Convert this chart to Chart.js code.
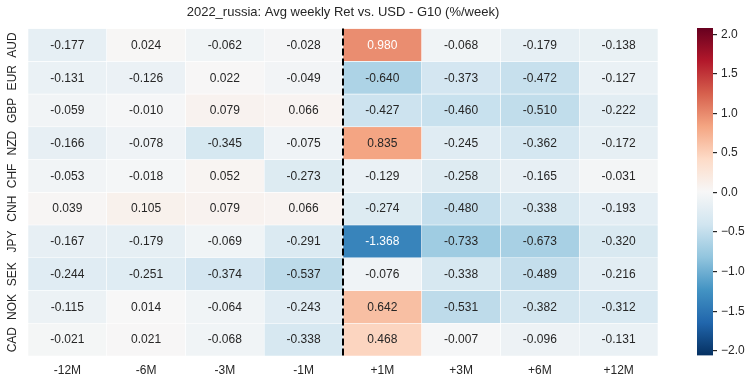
<!DOCTYPE html>
<html>
<head>
<meta charset="utf-8">
<script src="https://cdn.jsdelivr.net/npm/chart.js@4/dist/chart.umd.min.js"></script>
<style>
  html, body { margin: 0; padding: 0; background: #ffffff; }
  #wrap { position: relative; width: 752px; height: 383px; background: #ffffff; }
  #main { position: absolute; left: 0; top: 0; }
  #cbar { position: absolute; left: 686px; top: 0; }
</style>
</head>
<body>
<div id="wrap">
  <canvas id="main" width="686" height="383"></canvas>
  <canvas id="cbar" width="66" height="383"></canvas>
</div>
<script>
// ---------------- data ----------------
const titleText = '2022_russia: Avg weekly Ret vs. USD - G10 (%/week)';
const columns = ['-12M', '-6M', '-3M', '-1M', '+1M', '+3M', '+6M', '+12M'];
const rows = ['AUD', 'EUR', 'GBP', 'NZD', 'CHF', 'CNH', 'JPY', 'SEK', 'NOK', 'CAD'];
const AUD = [-0.177, 0.024, -0.062, -0.028, 0.980, -0.068, -0.179, -0.138];
const EUR = [-0.131, -0.126, 0.022, -0.049, -0.640, -0.373, -0.472, -0.127];
const GBP = [-0.059, -0.010, 0.079, 0.066, -0.427, -0.460, -0.510, -0.222];
const NZD = [-0.166, -0.078, -0.345, -0.075, 0.835, -0.245, -0.362, -0.172];
const CHF = [-0.053, -0.018, 0.052, -0.273, -0.129, -0.258, -0.165, -0.031];
const CNH = [0.039, 0.105, 0.079, 0.066, -0.274, -0.480, -0.338, -0.193];
const JPY = [-0.167, -0.179, -0.069, -0.291, -1.368, -0.733, -0.673, -0.320];
const SEK = [-0.244, -0.251, -0.374, -0.537, -0.076, -0.338, -0.489, -0.216];
const NOK = [-0.115, 0.014, -0.064, -0.243, 0.642, -0.531, -0.382, -0.312];
const CAD = [-0.021, 0.021, -0.068, -0.338, 0.468, -0.007, -0.096, -0.131];
const rowValues = [AUD, EUR, GBP, NZD, CHF, CNH, JPY, SEK, NOK, CAD];
const colorbarTicks = [-2.0, -1.5, -1.0, -0.5, 0.0, 0.5, 1.0, 1.5, 2.0];
const vmin = -2.06, vmax = 2.08;
const splitAfterColumn = 3; // dashed line between -1M and +1M

// ---------------- colormap (RdBu_r) ----------------
const RdBu_r = ['#053061','#2166ac','#4393c3','#92c5de','#d1e5f0','#f7f7f7','#fddbc7','#f4a582','#d6604d','#b2182b','#67001f'];
function hexToRgb(h) { return [parseInt(h.slice(1,3),16), parseInt(h.slice(3,5),16), parseInt(h.slice(5,7),16)]; }
const stops = RdBu_r.map(hexToRgb);
function rgbFor(v) {
  let t = (v - vmin) / (vmax - vmin);
  t = Math.max(0, Math.min(1, t));
  const p = t * (stops.length - 1);
  const k = Math.min(stops.length - 2, Math.floor(p));
  const f = p - k;
  return stops[k].map((c, i) => c + (stops[k + 1][i] - c) * f);
}
function colorFor(v) { const c = rgbFor(v); return `rgb(${c.map(Math.round).join(',')})`; }
function textColorFor(v) {
  const c = rgbFor(v).map(x => { x /= 255; return x <= 0.03928 ? x / 12.92 : Math.pow((x + 0.055) / 1.055, 2.4); });
  const lum = 0.2126 * c[0] + 0.7152 * c[1] + 0.0722 * c[2];
  return lum > 0.408 ? '#262626' : '#ffffff';
}

const FONT = '"Liberation Sans", Arial, Helvetica, sans-serif';
const TXT = '#262626';

// ---------------- plugins ----------------
const annotatePlugin = {
  id: 'annotate',
  afterDatasetsDraw(chart) {
    const ctx = chart.ctx;
    ctx.save();
    ctx.font = '12px ' + FONT;
    ctx.textAlign = 'center';
    ctx.textBaseline = 'middle';
    rowValues.forEach((vals, i) => {
      const meta = chart.getDatasetMeta(i);
      meta.data.forEach((el, j) => {
        const v = vals[j];
        ctx.fillStyle = textColorFor(v);
        ctx.fillText(v.toFixed(3), el.x, (el.y + el.base) / 2 + 0.5);
      });
    });
    ctx.restore();
  },
  afterDraw(chart) {
    const ctx = chart.ctx;
    const xs = chart.scales.x;
    const x = Math.round((xs.getPixelForValue(splitAfterColumn) + xs.getPixelForValue(splitAfterColumn + 1)) / 2);
    const ca = chart.chartArea;
    ctx.save();
    ctx.strokeStyle = '#000000';
    ctx.lineWidth = 2;
    ctx.setLineDash([7, 3]);
    ctx.beginPath();
    ctx.moveTo(x, ca.top);
    ctx.lineTo(x, ca.bottom);
    ctx.stroke();
    ctx.restore();
  }
};

// ---------------- heatmap ----------------
new Chart(document.getElementById('main'), {
  type: 'bar',
  data: {
    labels: columns,
    datasets: rows.map((r, i) => ({
      label: r,
      data: columns.map(() => [i, i + 1]),
      grouped: false,
      barPercentage: 1,
      categoryPercentage: 1,
      backgroundColor: rowValues[i].map(colorFor),
      borderColor: '#ffffff',
      borderWidth: 0.6,
      borderSkipped: false
    }))
  },
  options: {
    responsive: false,
    animation: false,
    events: [],
    layout: { padding: 0 },
    plugins: {
      legend: { display: false },
      tooltip: { enabled: false },
      title: {
        display: true,
        text: titleText,
        color: TXT,
        font: { family: FONT, size: 13, weight: 'normal', lineHeight: 1.2 },
        padding: { top: 5, bottom: 8 }
      }
    },
    scales: {
      x: {
        type: 'category',
        offset: true,
        grid: { display: false, drawTicks: false },
        border: { display: false },
        ticks: { color: TXT, font: { family: FONT, size: 12 }, padding: 7, maxRotation: 0, minRotation: 0 },
        afterFit: s => { s.height = 27; }
      },
      y: {
        type: 'linear',
        position: 'left',
        min: 0,
        max: rows.length,
        reverse: true,
        grid: { display: false, drawTicks: false },
        border: { display: false },
        afterBuildTicks: s => { s.ticks = rows.map((_, i) => ({ value: i + 0.5 })); },
        ticks: {
          color: TXT,
          font: { family: FONT, size: 12 },
          callback: v => rows[Math.floor(v)],
          minRotation: 90,
          maxRotation: 90,
          crossAlign: 'center',
          padding: 2,
          autoSkip: false
        },
        afterFit: s => { s.width = 28; }
      },
      yR: {
        type: 'linear',
        position: 'right',
        display: true,
        grid: { display: false, drawTicks: false },
        border: { display: false },
        ticks: { display: false },
        afterFit: s => { s.width = 28; }
      }
    }
  },
  plugins: [annotatePlugin]
});

// ---------------- colorbar ----------------
new Chart(document.getElementById('cbar'), {
  type: 'bar',
  data: {
    labels: ['cbar'],
    datasets: [{
      data: [[vmin, vmax]],
      barPercentage: 1,
      categoryPercentage: 1,
      borderWidth: 0,
      backgroundColor: ctx => {
        const ca = ctx.chart.chartArea;
        if (!ca) return '#ffffff';
        const g = ctx.chart.ctx.createLinearGradient(0, ca.bottom, 0, ca.top);
        RdBu_r.forEach((c, k) => g.addColorStop(k / (RdBu_r.length - 1), c));
        return g;
      }
    }]
  },
  options: {
    responsive: false,
    animation: false,
    events: [],
    layout: { padding: { left: 11, top: 28, bottom: 27.5, right: 0 } },
    plugins: { legend: { display: false }, tooltip: { enabled: false }, title: { display: false } },
    scales: {
      x: { display: false },
      y: {
        position: 'right',
        min: vmin,
        max: vmax,
        grid: { display: true, drawOnChartArea: false, drawTicks: true, tickLength: 4, color: '#262626', lineWidth: 1.2 },
        border: { display: false },
        afterBuildTicks: s => { s.ticks = colorbarTicks.map(v => ({ value: v })); },
        ticks: {
          color: TXT,
          font: { family: FONT, size: 12 },
          padding: 4,
          callback: v => (v < 0 ? '\u2212' : '') + Math.abs(v).toFixed(1)
        },
        afterFit: s => { s.width = 39; }
      }
    }
  }
});
</script>
</body>
</html>
